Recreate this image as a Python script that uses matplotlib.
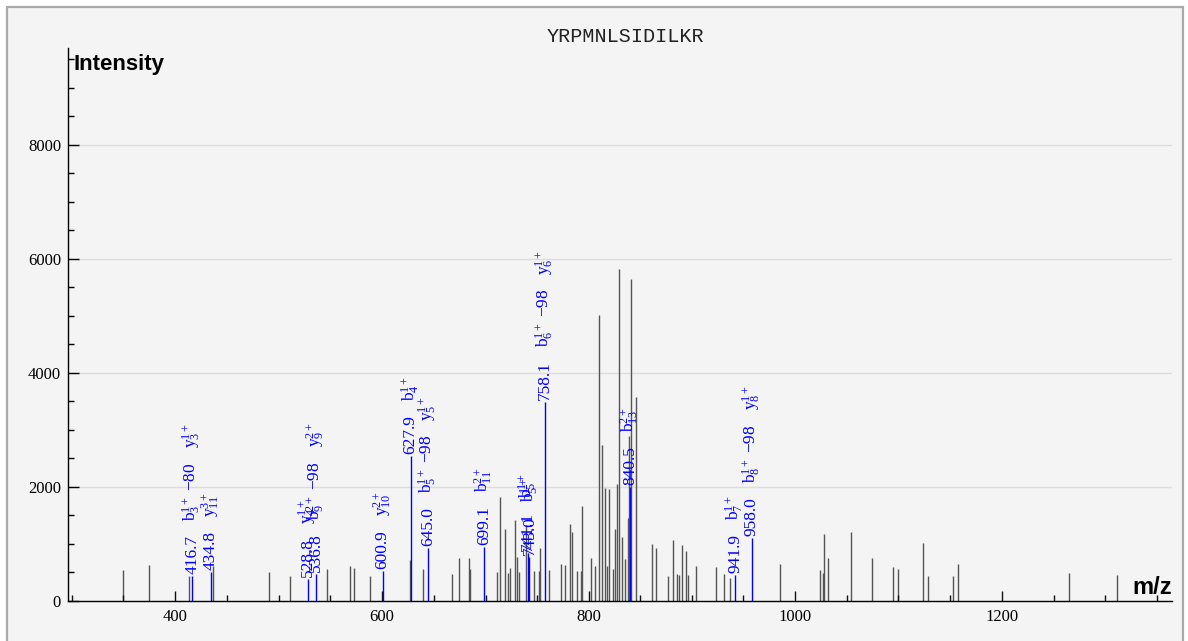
import matplotlib
matplotlib.use("Agg")
import matplotlib.pyplot as plt
from matplotlib.patches import Rectangle
from matplotlib.ticker import MultipleLocator

plt.rcParams.update({
    "font.family": "Liberation Serif",
    "mathtext.fontset": "custom",
    "mathtext.rm": "Liberation Serif",
    "mathtext.it": "Liberation Serif:italic",
})

# ---------------------------------------------------------------------------
# data
# ---------------------------------------------------------------------------
title = "YRPMNLSIDILKR"

peak_mz = [349.4, 374.6, 413.2, 436.5, 491.0, 511.0, 547.0, 569.0, 572.9,
           588.4, 627.4, 640.0, 668.0, 674.5, 684.2, 685.4, 711.3, 714.5,
           719.0, 722.0, 724.5, 729.3, 731.2, 733.2, 739.3, 747.4, 752.0,
           753.2, 761.6, 773.2, 777.4, 781.9, 784.1, 788.7, 792.8, 793.8,
           802.8, 806.7, 810.3, 812.8, 816.4, 818.0, 819.6, 824.0, 826.0,
           828.0, 829.3, 832.8, 835.1, 838.0, 839.0, 841.3, 846.4, 861.2,
           865.1, 876.7, 882.2, 886.0, 887.4, 890.3, 894.2, 896.7, 904.4,
           923.8, 930.9, 937.0, 985.4, 1024.4, 1026.7, 1028.0, 1031.9,
           1054.4, 1074.7, 1095.0, 1099.6, 1123.4, 1128.3, 1153.0, 1157.3,
           1265.3, 1311.5]
peak_int = [544, 626, 439, 614, 509, 433, 556, 614, 573,
            433, 720, 561, 480, 754, 760, 556, 509, 1825,
            1257, 497, 585, 1421, 772, 509, 1333, 532, 532,
            936, 544, 643, 632, 1351, 1210, 532, 532, 1673,
            749, 614, 5018, 2737, 1977, 614, 1970, 556, 1263,
            2047, 5819, 1129, 732, 1456, 2900, 5649, 3579, 994,
            936, 439, 1070, 474, 456, 982, 883, 456, 609,
            602, 468, 409, 643, 544, 485, 1181, 749,
            1210, 760, 591, 561, 1012, 439, 444, 649,
            485, 462]

# small dark sticks
small_mz = [300.3, 349.6, 400.3, 450.0, 500.3, 550.0, 600.0, 650.3, 700.6,
            750.3, 800.3, 850.0, 900.2, 949.9, 1000.2, 1050.0, 1099.6,
            1149.6, 1200.2, 1250.2, 1299.9, 1349.9]
small_int = [100, 100, 180, 105, 105, 105, 175, 105, 105,
             105, 175, 105, 105, 105, 175, 105, 105,
             105, 181, 105, 105, 105]

# annotated (matched) fragment peaks
ann_mz = [416.7, 434.8, 528.8, 536.8, 600.9, 627.9, 645.0, 699.1, 741.1,
          743.0, 758.1, 840.5, 941.9, 958.0]
ann_int = [440, 500, 391, 468, 532, 2544, 924, 942, 848,
           767, 3486, 2006, 460, 1111]
ann_ions = [
    [r"$\mathrm{b}_{3}^{1+}$ $-$80", r"$\mathrm{y}_{3}^{1+}$"],
    [r"$\mathrm{y}_{11}^{3+}$"],
    [r"$\mathrm{y}_{4}^{1+}$"],
    [r"$\mathrm{b}_{9}^{2+}$ $-$98", r"$\mathrm{y}_{9}^{2+}$"],
    [r"$\mathrm{y}_{10}^{2+}$"],
    [r"$\mathrm{b}_{4}^{1+}$"],
    [r"$\mathrm{b}_{5}^{1+}$ $-$98", r"$\mathrm{y}_{5}^{1+}$"],
    [r"$\mathrm{b}_{11}^{2+}$"],
    [r"$\mathrm{b}_{5}^{1+}$"],
    [r"$\mathrm{b}_{5}^{1+}$"],
    [r"$\mathrm{b}_{6}^{1+}$ $-$98", r"$\mathrm{y}_{6}^{1+}$"],
    [r"$\mathrm{b}_{13}^{2+}$"],
    [r"$\mathrm{b}_{7}^{1+}$"],
    [r"$\mathrm{b}_{8}^{1+}$ $-$98", r"$\mathrm{y}_{8}^{1+}$"],
]

# ---------------------------------------------------------------------------
W, H, DPI = 1188, 641, 100
fig = plt.figure(figsize=(W / DPI, H / DPI), dpi=DPI, facecolor="white")
fig.patches.append(Rectangle((7 / W, -0.05), 1176 / W, 1.05 - 7 / H,
                             transform=fig.transFigure, facecolor="#f4f4f4",
                             edgecolor="#aaaaaa", lw=1.6, zorder=-10))

ax = fig.add_axes([68 / W, 40 / H, 1104 / W, 553 / H])
ax.set_facecolor("none")
ax.set_xlim(296.5, 1364.7)
ax.set_ylim(0, 9700)

for s in ("top", "right"):
    ax.spines[s].set_visible(False)
ax.spines["left"].set_linewidth(1.0)
ax.spines["bottom"].set_linewidth(1.0)

ax.xaxis.set_major_locator(MultipleLocator(200))
ax.yaxis.set_major_locator(MultipleLocator(2000))
ax.yaxis.set_minor_locator(MultipleLocator(500))
ax.tick_params(axis="x", length=0, pad=6, labelsize=12)
ax.tick_params(axis="y", which="major", direction="in", length=8, width=1,
               pad=5, labelsize=12)
ax.tick_params(axis="y", which="minor", direction="in", length=4.5, width=1)
ax.set_xticks([400, 600, 800, 1000, 1200])
ax.set_yticks([0, 2000, 4000, 6000, 8000])
ax.grid(axis="y", which="major", color="#dcdcdc", lw=1.0)
ax.set_axisbelow(True)

ax.vlines(peak_mz, 0, peak_int, color="#555555", lw=1.0)
ax.vlines(small_mz, 0, small_int, color="#111111", lw=1.0)
ax.vlines(ann_mz, 0, ann_int, color="#0000ff", lw=1.0)

ax.annotate("Intensity", (0, 1), xycoords="axes fraction",
            xytext=(4, -4), textcoords="offset points", ha="left", va="top",
            family="Liberation Sans", weight="bold", fontsize=16)
ax.text(1.0, 0.004, "m/z", transform=ax.transAxes, ha="right", va="bottom",
        family="Liberation Sans", weight="bold", fontsize=17)
fig.text(625 / W, 1 - 37 / H, title, ha="center", va="center",
         family="Liberation Mono", fontsize=14.5, color="#222222")

# stacked vertical labels above each matched peak
fig.canvas.draw()
rend = fig.canvas.get_renderer()
gap = 14  # px between stacked labels
for mz, inten, ions in zip(ann_mz, ann_int, ann_ions):
    off = 2
    for lab in [f"{mz:.1f}"] + ions:
        t = ax.annotate(lab, (mz, inten), xytext=(0, off * 72 / DPI),
                        textcoords="offset points", rotation=90,
                        ha="center", va="bottom", color="#0000ff",
                        fontsize=12.5)
        off += t.get_window_extent(rend).height + gap

fig.savefig("out.png", dpi=DPI, facecolor="white")
